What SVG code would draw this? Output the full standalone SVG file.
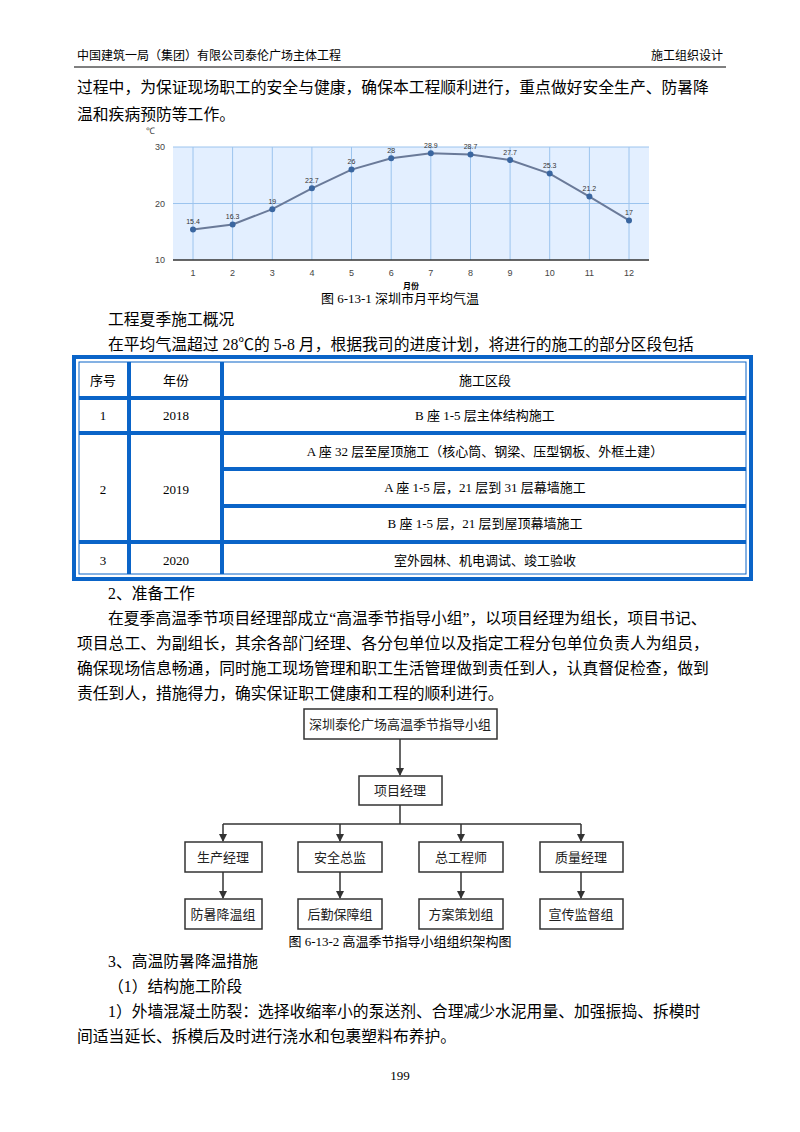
<svg xmlns="http://www.w3.org/2000/svg" width="800" height="1132" viewBox="0 0 800 1132">
<style>
text{font-family:"Noto Sans CJK SC","Liberation Serif",serif;fill:#000}
.b{font-size:15.8px;font-family:"Liberation Serif","Noto Sans CJK SC",serif}
.h{font-size:12px}
.t{font-size:13px;font-family:"Liberation Serif","Noto Sans CJK SC",serif;text-anchor:middle}
.ax{font-size:9px;font-family:"Liberation Sans",sans-serif;fill:#444;text-anchor:middle}
.v{font-size:7px;font-family:"Liberation Sans",sans-serif;fill:#333;text-anchor:middle}
.n rect{fill:#fff;stroke:#333;stroke-width:1.5}
.n text{font-size:13px;text-anchor:middle;fill:#222}
.tb{stroke:#0a64c8;stroke-width:4}
</style>
<defs><marker id="a" markerWidth="8" markerHeight="8" refX="7" refY="4" orient="auto" markerUnits="userSpaceOnUse"><path d="M0,0 L8,4 L0,8z" fill="#333"/></marker></defs>
<rect width="800" height="1132" fill="#fff"/>
<text x="77" y="60" class="h">中国建筑一局（集团）有限公司泰伦广场主体工程</text>
<text x="723" y="60" class="h" text-anchor="end">施工组织设计</text>
<line x1="74" y1="67" x2="726" y2="67" stroke="#000" stroke-width="1"/>
<text x="77" y="93" class="b">过程中，为保证现场职工的安全与健康，确保本工程顺利进行，重点做好安全生产、防暑降</text>
<text x="77" y="120" class="b">温和疾病预防等工作。</text>
<g id="chart">
<text x="150" y="134" class="ax">℃</text>
<rect x="173" y="147" width="476" height="113" fill="#e3efff"/>
<g stroke="#9cc4ee" stroke-width="1">
<line x1="173" y1="147" x2="649" y2="147"/><line x1="173" y1="203.5" x2="649" y2="203.5"/>
<line x1="193" y1="147" x2="193" y2="260"/><line x1="232.6" y1="147" x2="232.6" y2="260"/><line x1="272.3" y1="147" x2="272.3" y2="260"/><line x1="311.9" y1="147" x2="311.9" y2="260"/><line x1="351.5" y1="147" x2="351.5" y2="260"/><line x1="391.2" y1="147" x2="391.2" y2="260"/><line x1="430.8" y1="147" x2="430.8" y2="260"/><line x1="470.5" y1="147" x2="470.5" y2="260"/><line x1="510.1" y1="147" x2="510.1" y2="260"/><line x1="549.7" y1="147" x2="549.7" y2="260"/><line x1="589.4" y1="147" x2="589.4" y2="260"/><line x1="629" y1="147" x2="629" y2="260"/>
</g>
<line x1="173" y1="260" x2="649" y2="260" stroke="#333" stroke-width="1.5"/>
<text x="160" y="150" class="ax">30</text><text x="160" y="207" class="ax">20</text><text x="160" y="263" class="ax">10</text>
<polyline fill="none" stroke="#6a7a99" stroke-width="2" points="193,229.5 232.6,224.4 272.3,209.2 311.9,188.3 351.5,169.6 391.2,158.3 430.8,153.2 470.5,154.4 510.1,160 549.7,173.6 589.4,196.6 629,220.4"/>
<g fill="#3a66a0"><circle cx="193" cy="229.5" r="3"/><circle cx="232.6" cy="224.4" r="3"/><circle cx="272.3" cy="209.2" r="3"/><circle cx="311.9" cy="188.3" r="3"/><circle cx="351.5" cy="169.6" r="3"/><circle cx="391.2" cy="158.3" r="3"/><circle cx="430.8" cy="153.2" r="3"/><circle cx="470.5" cy="154.4" r="3"/><circle cx="510.1" cy="160" r="3"/><circle cx="549.7" cy="173.6" r="3"/><circle cx="589.4" cy="196.6" r="3"/><circle cx="629" cy="220.4" r="3"/></g>
<text x="193" y="224" class="v">15.4</text><text x="232.6" y="219" class="v">16.3</text><text x="272.3" y="204" class="v">19</text><text x="311.9" y="183" class="v">22.7</text><text x="351.5" y="164" class="v">26</text><text x="391.2" y="153" class="v">28</text><text x="430.8" y="148" class="v">28.9</text><text x="470.5" y="149" class="v">28.7</text><text x="510.1" y="155" class="v">27.7</text><text x="549.7" y="168" class="v">25.3</text><text x="589.4" y="191" class="v">21.2</text><text x="629" y="215" class="v">17</text>
<text x="193" y="276" class="ax">1</text><text x="232.6" y="276" class="ax">2</text><text x="272.3" y="276" class="ax">3</text><text x="311.9" y="276" class="ax">4</text><text x="351.5" y="276" class="ax">5</text><text x="391.2" y="276" class="ax">6</text><text x="430.8" y="276" class="ax">7</text><text x="470.5" y="276" class="ax">8</text><text x="510.1" y="276" class="ax">9</text><text x="549.7" y="276" class="ax">10</text><text x="589.4" y="276" class="ax">11</text><text x="629" y="276" class="ax">12</text>
<text x="411" y="289" font-size="8" font-weight="bold" text-anchor="middle">月份</text>
</g>
<text x="400" y="303" class="t" font-size="14">图 6-13-1  深圳市月平均气温</text>
<text x="108" y="325" class="b">工程夏季施工概况</text>
<text x="108" y="350" class="b">在平均气温超过 28℃的 5-8 月，根据我司的进度计划，将进行的施工的部分区段包括</text>
<g id="table">
<rect x="74" y="357" width="677" height="222" fill="none" class="tb"/>
<rect x="79" y="362" width="667" height="212" fill="none" stroke="#0a64c8" stroke-width="1"/>
<g class="tb">
<line x1="79" y1="398" x2="746" y2="398"/><line x1="79" y1="433" x2="746" y2="433"/>
<line x1="222" y1="469" x2="746" y2="469"/><line x1="222" y1="506" x2="746" y2="506"/>
<line x1="79" y1="542" x2="746" y2="542"/>
<line x1="129" y1="362" x2="129" y2="574"/><line x1="222" y1="362" x2="222" y2="574"/>
</g>
<text x="103" y="385" class="t">序号</text><text x="176" y="385" class="t">年份</text><text x="485" y="385" class="t">施工区段</text>
<text x="103" y="420" class="t">1</text><text x="176" y="420" class="t">2018</text><text x="485" y="420" class="t">B 座 1-5 层主体结构施工</text>
<text x="103" y="494" class="t">2</text><text x="176" y="494" class="t">2019</text>
<text x="485" y="456" class="t">A 座 32 层至屋顶施工（核心筒、钢梁、压型钢板、外框土建）</text>
<text x="485" y="492" class="t">A 座 1-5 层，21 层到 31 层幕墙施工</text>
<text x="485" y="528" class="t">B 座 1-5 层，21 层到屋顶幕墙施工</text>
<text x="103" y="565" class="t">3</text><text x="176" y="565" class="t">2020</text><text x="485" y="565" class="t">室外园林、机电调试、竣工验收</text>
</g>
<text x="108" y="599" class="b">2、准备工作</text>
<text x="108" y="624" class="b">在夏季高温季节项目经理部成立“高温季节指导小组”，以项目经理为组长，项目书记、</text>
<text x="77" y="649" class="b">项目总工、为副组长，其余各部门经理、各分包单位以及指定工程分包单位负责人为组员，</text>
<text x="77" y="674" class="b">确保现场信息畅通，同时施工现场管理和职工生活管理做到责任到人，认真督促检查，做到</text>
<text x="77" y="699" class="b">责任到人，措施得力，确实保证职工健康和工程的顺利进行。</text>
<g id="connectors" stroke="#333" stroke-width="1.5" fill="none">
<line x1="400" y1="739" x2="400" y2="775" marker-end="url(#a)"/>
<line x1="400" y1="805" x2="400" y2="824"/>
<line x1="223" y1="824" x2="581" y2="824"/>
<line x1="223" y1="824" x2="223" y2="841" marker-end="url(#a)"/><line x1="340" y1="824" x2="340" y2="841" marker-end="url(#a)"/><line x1="461" y1="824" x2="461" y2="841" marker-end="url(#a)"/><line x1="581" y1="824" x2="581" y2="841" marker-end="url(#a)"/>
<line x1="223" y1="872" x2="223" y2="898" marker-end="url(#a)"/><line x1="340" y1="872" x2="340" y2="898" marker-end="url(#a)"/><line x1="461" y1="872" x2="461" y2="898" marker-end="url(#a)"/><line x1="581" y1="872" x2="581" y2="898" marker-end="url(#a)"/>
</g>
<g id="n0" class="n"><rect x="304" y="709" width="193" height="30"/><text x="400" y="729">深圳泰伦广场高温季节指导小组</text></g>
<g id="n1" class="n"><rect x="359" y="776" width="83" height="29"/><text x="400" y="795">项目经理</text></g>
<g id="n2" class="n"><rect x="185" y="842" width="77" height="30"/><text x="223" y="862">生产经理</text></g>
<g id="n3" class="n"><rect x="298" y="842" width="84" height="30"/><text x="340" y="862">安全总监</text></g>
<g id="n4" class="n"><rect x="419" y="842" width="84" height="30"/><text x="461" y="862">总工程师</text></g>
<g id="n5" class="n"><rect x="540" y="842" width="83" height="30"/><text x="581" y="862">质量经理</text></g>
<g id="n6" class="n"><rect x="185" y="899" width="77" height="30"/><text x="223" y="919">防暑降温组</text></g>
<g id="n7" class="n"><rect x="298" y="899" width="84" height="30"/><text x="340" y="919">后勤保障组</text></g>
<g id="n8" class="n"><rect x="419" y="899" width="84" height="30"/><text x="461" y="919">方案策划组</text></g>
<g id="n9" class="n"><rect x="540" y="899" width="83" height="30"/><text x="581" y="919">宣传监督组</text></g>
<text x="400" y="946" class="t">图 6-13-2 高温季节指导小组组织架构图</text>
<text x="108" y="967" class="b">3、高温防暑降温措施</text>
<text x="108" y="992" class="b">（1）结构施工阶段</text>
<text x="108" y="1017" class="b">1）外墙混凝土防裂：选择收缩率小的泵送剂、合理减少水泥用量、加强振捣、拆模时</text>
<text x="77" y="1042" class="b">间适当延长、拆模后及时进行浇水和包裹塑料布养护。</text>
<text x="400" y="1080" class="t" font-size="12">199</text>
</svg>
